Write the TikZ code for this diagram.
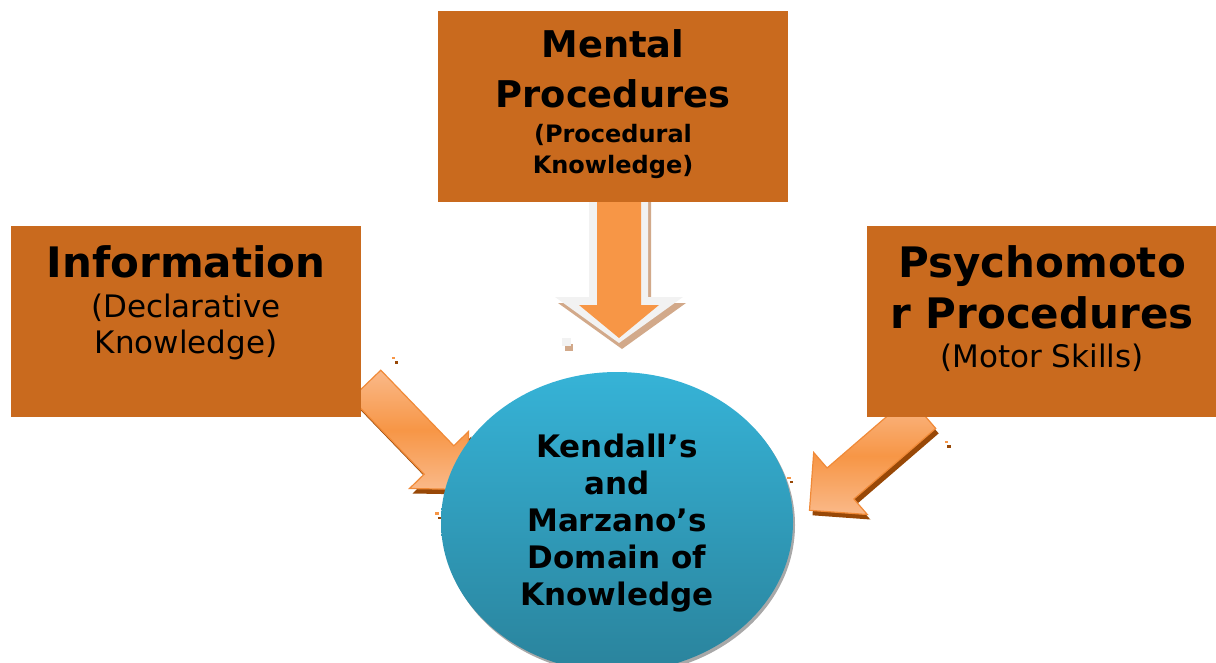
\documentclass[tikz,border=0pt]{standalone}
\usepackage{fontspec}
\setmainfont{DejaVu Sans}
\usetikzlibrary{shapes.geometric}

\definecolor{boxfill}{HTML}{C96A1E}
\definecolor{arrowmid}{HTML}{F79646}
\definecolor{arrowlight}{HTML}{FAB989}
\definecolor{arrowedge}{HTML}{F08A38}
\definecolor{arrowshade}{HTML}{984807}
\definecolor{downgray}{HTML}{F2F2F2}
\definecolor{downtan}{HTML}{D2A98A}
\definecolor{ovaltop}{HTML}{36B3D7}
\definecolor{ovalbottom}{HTML}{2A839C}
\definecolor{ovalshadow}{HTML}{A8A8A8}

% outlines of the two slanted block arrows and of the downward arrow
\newcommand\InfoArrowOutline{(380.8,370.2) -- (453.8,445.8) -- (468.5,431.5) -- (467.5,489.5) -- (409.5,488.5) -- (424.2,474.2) -- (351.3,398.6) -- cycle}
\newcommand\MotorArrowOutline{(908.9,397.4) -- (827.1,468.0) -- (813.7,452.5) -- (809.5,510.3) -- (867.3,514.5) -- (853.9,499.0) -- (935.7,428.4) -- cycle}
\newcommand\DownArrowOuter{(589,195) -- (648,195) -- (648,297) -- (683,297) -- (619,343) -- (555,297) -- (589,297) -- cycle}
\newcommand\DownArrowInner{(597,195) -- (641,195) -- (641,305) -- (659,305) -- (619,338) -- (579,305) -- (597,305) -- cycle}

\tikzset{
  topicbox/.style={rectangle, fill=boxfill, draw=none, inner sep=0pt,
    minimum width=350pt, minimum height=191pt},
  boxtext/.style={align=center, inner sep=0pt, text=black, anchor=north},
  blockarrow/.style={top color=arrowlight, bottom color=arrowlight,
    middle color=arrowmid, draw=arrowedge, line width=1.2pt},
  arrowshadow/.style={fill=arrowshade},
  speck/.style={fill=arrowmid},
  speckshade/.style={fill=arrowshade},
}

\begin{document}
\begin{tikzpicture}[x=1pt,y=-1pt]
\useasboundingbox (0,0) rectangle (1216,662);
\clip (0,0) rectangle (1216,662);

% downward arrow from the mental procedures box
\fill[downtan, shift={(3,6)}] \DownArrowOuter;
\fill[downgray] \DownArrowOuter;
\fill[arrowmid] \DownArrowInner;
\fill[downtan] (565,344) rectangle (573,351);
\fill[downgray] (562,338) rectangle (571,346);

% slanted arrows from the two side boxes
\fill[arrowshadow, shift={(3,5)}] \InfoArrowOutline;
\path[blockarrow] \InfoArrowOutline;
\fill[arrowshadow, shift={(3,5)}] \MotorArrowOutline;
\path[blockarrow] \MotorArrowOutline;

% small specks beside the arrows
\fill[speckshade] (394.7,361.3) rectangle (398,364);
\fill[speck] (392,356.7) rectangle (395.3,358.7);
\fill[speckshade] (438,516.7) rectangle (441.3,519.3);
\fill[speck] (435.3,512.3) rectangle (438.7,514.7);
\fill[speckshade] (790,481) rectangle (793.3,483.3);
\fill[speck] (787.3,476.7) rectangle (790.7,479);
\fill[speckshade] (947.3,445) rectangle (950.7,448);
\fill[speck] (945,441) rectangle (948.3,443.3);

% the three topic boxes
\node[topicbox] (mental) at (613,106.5) {};
\node[topicbox] (info) at (186,321.5) {};
\node[topicbox, minimum width=349pt] (psycho) at (1041.5,321.5) {};

% central oval
\node[ellipse, fill=ovalshadow, inner sep=0pt, minimum width=352pt,
  minimum height=300pt] (domainshadow) at (619,525) {};
\node[ellipse, top color=ovaltop, bottom color=ovalbottom, inner sep=0pt,
  minimum width=352pt, minimum height=300pt] (domain) at (617,522) {};

% texts
\node[boxtext, font=\fontsize{24}{31}\selectfont\bfseries] (mentaltext) at (613,29)
  {{\fontsize{36.8}{31}\selectfont Mental}\\[19pt]
   {\fontsize{36.8}{31}\selectfont Procedures}\\[4pt]
   (Procedural\\Knowledge)};
\node[boxtext, font=\fontsize{31}{36}\selectfont] (infotext) at (186,245)
  {{\fontsize{42}{36}\selectfont\bfseries Information}\\[4pt]
   (Declarative\\Knowledge)};
\node[boxtext, font=\fontsize{31}{39}\selectfont] (psychotext) at (1042,245)
  {{\fontsize{42}{39}\selectfont\bfseries Psychomoto}\\[9pt]
   {\fontsize{42}{39}\selectfont\bfseries r Procedures}\\
   (Motor Skills)};
\node[boxtext, font=\fontsize{31}{37}\selectfont\bfseries] (domaintext) at (617,433.4)
  {Kendall’s\\and\\Marzano’s\\Domain of\\Knowledge};
\end{tikzpicture}
\end{document}
